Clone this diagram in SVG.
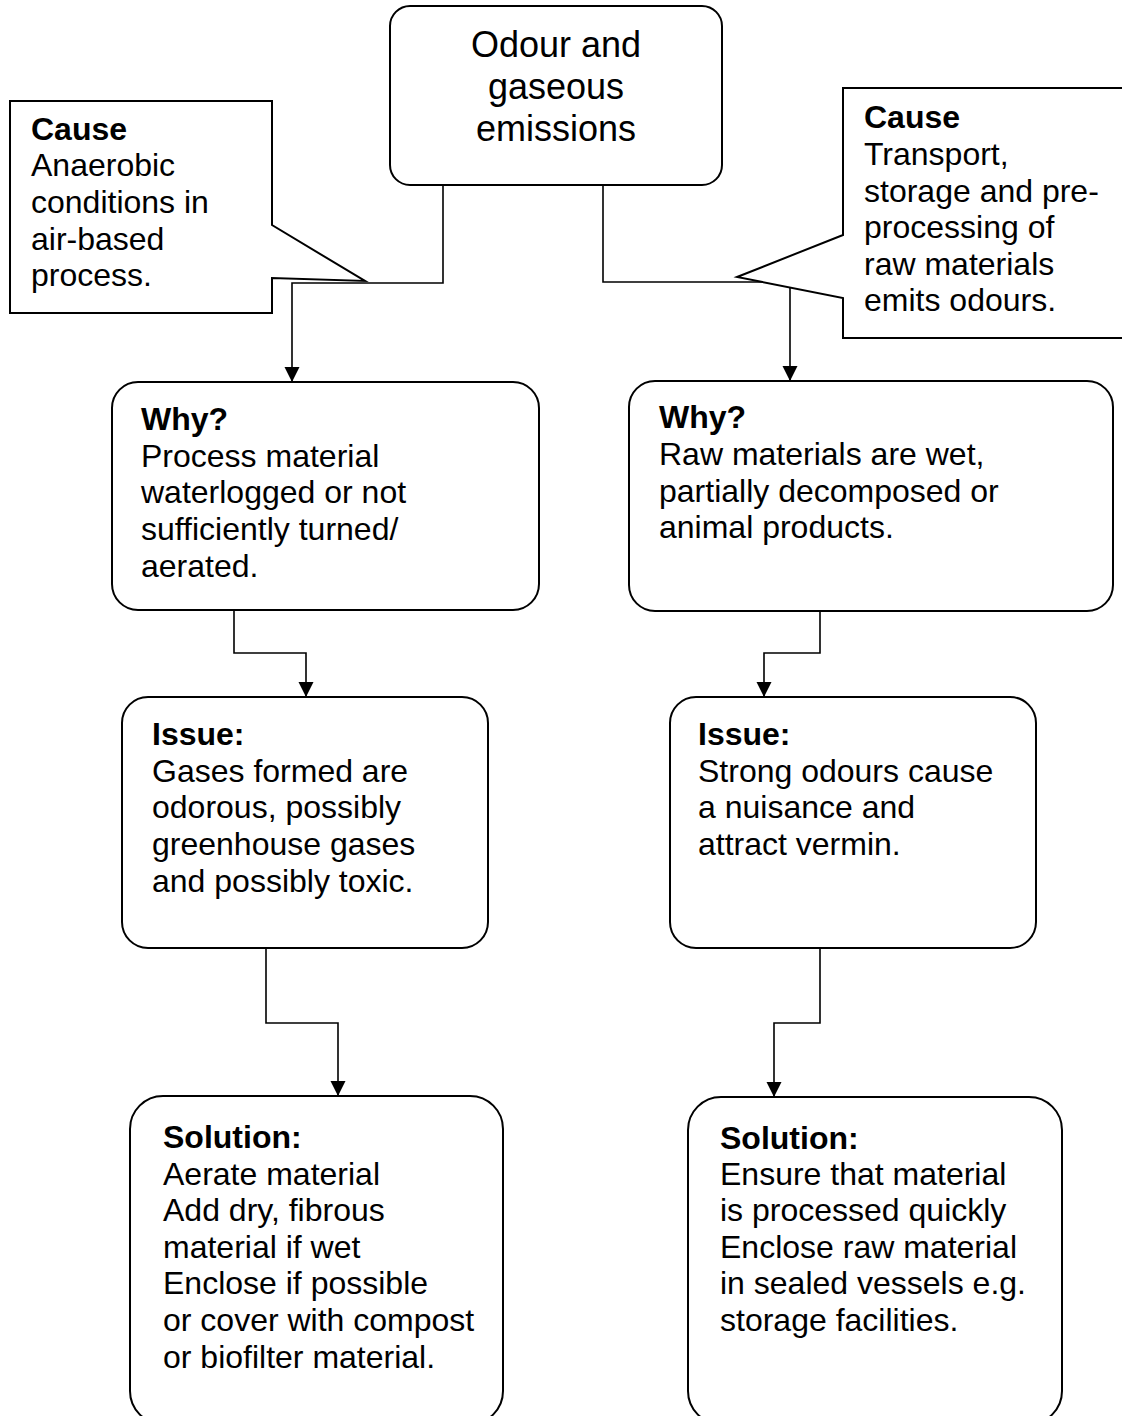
<svg xmlns="http://www.w3.org/2000/svg" width="1122" height="1416" viewBox="0 0 1122 1416">
<style>
.box{fill:#fff;stroke:#000;stroke-width:2}
.conn{fill:none;stroke:#000;stroke-width:1.6}
text{font-family:"Liberation Sans",Arial,sans-serif;font-size:32px;fill:#000}
.b{font-weight:bold}
.title{font-size:36px;text-anchor:middle}
</style>
<defs>
<marker id="arr" markerUnits="userSpaceOnUse" markerWidth="16" markerHeight="16" viewBox="0 0 16 16" refX="15" refY="8" orient="auto">
<path d="M0,0.5 L15,8 L0,15.5 Z" fill="#000"/>
</marker>
</defs>
<rect width="1122" height="1416" fill="#fff"/>
<g id="connectors">
<path class="conn" d="M443,185 V283 H292 V382" marker-end="url(#arr)"/>
<path class="conn" d="M603,185 V282 H790 V381" marker-end="url(#arr)"/>
<path class="conn" d="M234,610 V653 H306 V697" marker-end="url(#arr)"/>
<path class="conn" d="M820,611 V653 H764 V697" marker-end="url(#arr)"/>
<path class="conn" d="M266,948 V1023 H338 V1096" marker-end="url(#arr)"/>
<path class="conn" d="M820,948 V1023 H774 V1097" marker-end="url(#arr)"/>
</g>
<g id="title">
<rect class="box" x="390" y="6" width="332" height="179" rx="20"/>
<text class="title"><tspan x="556" y="57">Odour and</tspan><tspan x="556" y="99">gaseous</tspan><tspan x="556" y="141">emissions</tspan></text>
</g>
<g id="cause-left">
<path class="box" d="M10,101 H272 V225 L365,281 L272,278 V313 H10 Z"/>
<text><tspan class="b" x="31" y="140">Cause</tspan><tspan x="31" y="176">Anaerobic</tspan><tspan x="31" y="213">conditions in</tspan><tspan x="31" y="250">air-based</tspan><tspan x="31" y="286">process.</tspan></text>
</g>
<g id="cause-right">
<path class="box" d="M1126,88 H843 V235 L737,277 L843,298 V338 H1126"/>
<text><tspan class="b" x="864" y="128">Cause</tspan><tspan x="864" y="165">Transport,</tspan><tspan x="864" y="202">storage and pre-</tspan><tspan x="864" y="238">processing of</tspan><tspan x="864" y="275">raw materials</tspan><tspan x="864" y="311">emits odours.</tspan></text>
</g>
<g id="why-left">
<rect class="box" x="112" y="382" width="427" height="228" rx="26"/>
<text><tspan class="b" x="141" y="430">Why?</tspan><tspan x="141" y="467">Process material</tspan><tspan x="141" y="503">waterlogged or not</tspan><tspan x="141" y="540">sufficiently turned/</tspan><tspan x="141" y="577">aerated.</tspan></text>
</g>
<g id="why-right">
<rect class="box" x="629" y="381" width="484" height="230" rx="26"/>
<text><tspan class="b" x="659" y="428">Why?</tspan><tspan x="659" y="465">Raw materials are wet,</tspan><tspan x="659" y="502">partially decomposed or</tspan><tspan x="659" y="538">animal products.</tspan></text>
</g>
<g id="issue-left">
<rect class="box" x="122" y="697" width="366" height="251" rx="26"/>
<text><tspan class="b" x="152" y="745">Issue:</tspan><tspan x="152" y="782">Gases formed are</tspan><tspan x="152" y="818">odorous, possibly</tspan><tspan x="152" y="855">greenhouse gases</tspan><tspan x="152" y="892">and possibly toxic.</tspan></text>
</g>
<g id="issue-right">
<rect class="box" x="670" y="697" width="366" height="251" rx="26"/>
<text><tspan class="b" x="698" y="745">Issue:</tspan><tspan x="698" y="782">Strong odours cause</tspan><tspan x="698" y="818">a nuisance and</tspan><tspan x="698" y="855">attract vermin.</tspan></text>
</g>
<g id="solution-left">
<rect class="box" x="130" y="1096" width="373" height="328" rx="33"/>
<text><tspan class="b" x="163" y="1148">Solution:</tspan><tspan x="163" y="1185">Aerate material</tspan><tspan x="163" y="1221">Add dry, fibrous</tspan><tspan x="163" y="1258">material if wet</tspan><tspan x="163" y="1294">Enclose if possible</tspan><tspan x="163" y="1331">or cover with compost</tspan><tspan x="163" y="1368">or biofilter material.</tspan></text>
</g>
<g id="solution-right">
<rect class="box" x="688" y="1097" width="374" height="327" rx="33"/>
<text><tspan class="b" x="720" y="1149">Solution:</tspan><tspan x="720" y="1185">Ensure that material</tspan><tspan x="720" y="1221">is processed quickly</tspan><tspan x="720" y="1258">Enclose raw material</tspan><tspan x="720" y="1294">in sealed vessels e.g.</tspan><tspan x="720" y="1331">storage facilities.</tspan></text>
</g>
</svg>
